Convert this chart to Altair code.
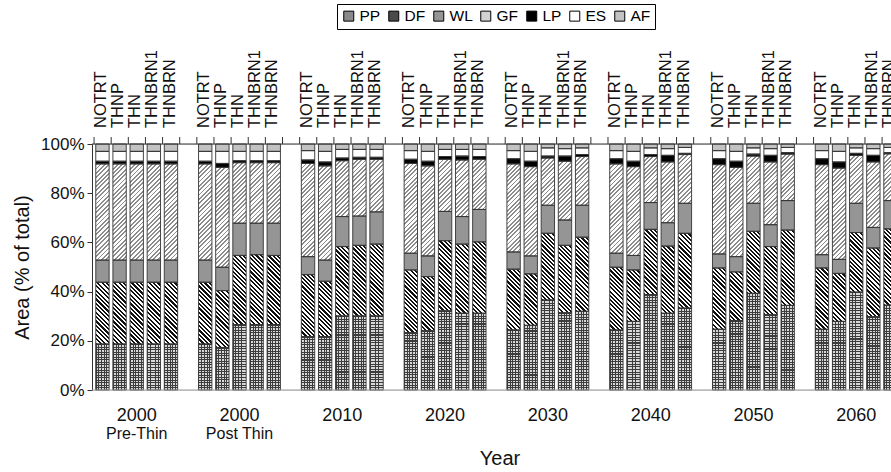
import altair as alt

# ---------------- data ----------------
groups = ["2000", "2000", "2010", "2020", "2030", "2040", "2050", "2060"]
group_sub = ["Pre-Thin", "Post Thin", "", "", "", "", "", ""]
treatments = ["NOTRT", "THNP", "THN", "THNBRN1", "THNBRN"]
classes = ["PP", "DF", "WL", "GF", "LP", "ES", "AF"]

# % of total area, 8 groups x 5 treatments (NOTRT, THNP, THN, THNBRN1, THNBRN)
PP = [18.7, 18.7, 18.7, 18.7, 18.7,
      18.7, 17.3, 26.6, 26.6, 26.6,
      21.7, 21.7, 30.1, 30.1, 30.1,
      23.3, 24.1, 32.2, 31.2, 31.2,
      24.4, 26.3, 36.6, 31.4, 32.0,
      24.4, 27.9, 38.8, 31.2, 33.3,
      24.7, 28.2, 39.3, 30.6, 34.4,
      24.7, 27.9, 39.8, 29.8, 34.5]
DF = [25.1, 25.1, 25.1, 25.1, 25.1,
      25.1, 23.1, 28.1, 28.4, 28.1,
      25.2, 22.5, 28.2, 28.7, 29.2,
      25.5, 22.0, 28.5, 28.1, 29.0,
      24.7, 20.9, 27.1, 27.4, 30.1,
      25.5, 20.9, 26.5, 27.3, 30.4,
      24.9, 19.8, 25.2, 27.7, 30.6,
      24.9, 19.5, 24.2, 27.9, 31.0]
WL = [9.0, 9.0, 9.0, 9.0, 9.0,
      9.0, 9.5, 13.1, 12.8, 13.1,
      7.3, 8.6, 12.2, 11.9, 13.1,
      6.8, 8.4, 11.9, 11.2, 13.2,
      7.0, 7.3, 11.4, 10.3, 13.0,
      5.7, 5.9, 10.9, 9.5, 12.2,
      5.7, 6.2, 11.4, 8.9, 12.0,
      5.4, 5.7, 11.9, 8.4, 11.5]
GF = [39.1, 39.1, 39.1, 39.1, 39.1,
      39.1, 40.6, 24.6, 24.6, 24.6,
      37.9, 38.3, 22.7, 23.1, 21.4,
      36.5, 36.6, 21.2, 23.0, 20.4,
      35.8, 36.3, 19.2, 23.9, 19.8,
      36.3, 36.1, 18.7, 24.7, 19.8,
      36.3, 36.3, 19.2, 25.5, 18.9,
      36.6, 37.1, 19.5, 26.6, 19.0]
LP = [1.1, 1.1, 1.1, 1.1, 1.1,
      1.1, 1.6, 0.8, 0.8, 0.8,
      1.4, 1.6, 1.1, 0.8, 0.8,
      1.7, 1.9, 1.1, 1.6, 1.1,
      2.1, 2.2, 0.8, 2.1, 0.8,
      2.1, 2.2, 0.8, 2.7, 0.5,
      2.4, 2.5, 0.8, 2.7, 0.6,
      2.4, 2.5, 0.8, 2.7, 0.5]
ES = [4.0, 4.0, 4.0, 4.0, 4.0,
      4.0, 4.9, 3.8, 3.8, 3.8,
      3.8, 4.3, 3.5, 3.2, 3.2,
      3.5, 4.0, 2.9, 2.7, 2.9,
      3.3, 4.0, 3.3, 3.0, 2.7,
      3.3, 4.0, 2.7, 2.7, 2.4,
      3.3, 4.0, 2.5, 2.7, 2.1,
      3.3, 4.3, 2.2, 2.7, 2.1]
AF = [3.0, 3.0, 3.0, 3.0, 3.0,
      3.0, 3.0, 3.0, 3.0, 3.0,
      2.7, 3.0, 2.2, 2.2, 2.2,
      2.7, 3.0, 2.2, 2.2, 2.2,
      2.7, 3.0, 1.6, 1.9, 1.6,
      2.7, 3.0, 1.6, 1.9, 1.4,
      2.7, 3.0, 1.6, 1.9, 1.4,
      2.7, 3.0, 1.6, 1.9, 1.4]

# ---------------- layout / style ----------------
FONT = "Liberation Sans"
W, H = 799, 246
X_MAX = 46.64                 # x domain in bar slots
SLOT_PX = W / X_MAX
PCT_PX = H / 100.0
BAR_OFF, BAR_W = 0.22, 0.78
BAR_W_PX = BAR_W * SLOT_PX

_gid = [0]


def _id():
    _gid[0] += 1
    return "hatch%d" % _gid[0]


def _stops(n, frac, line, bg):
    out = []
    for i in range(n):
        a, b, c = i / n, (i + frac) / n, (i + 1) / n
        out += [{"offset": round(a, 5), "color": line},
                {"offset": round(b, 5), "color": line},
                {"offset": round(b, 5), "color": bg},
                {"offset": round(c, 5), "color": bg}]
    return out


def diag(w, h, period, frac, line, bg, rising):
    k = (w + h) / (w * w + h * h)
    dx, dy = w * k, h * k
    n = max(1, int(round((w + h) / period)))
    if rising:   # "/"
        g = {"gradient": "linear", "id": _id(), "x1": 0, "y1": 0, "x2": dx, "y2": dy}
    else:        # "\"
        g = {"gradient": "linear", "id": _id(), "x1": 0, "y1": 1, "x2": dx, "y2": 1 - dy}
    g["stops"] = _stops(n, frac, line, bg)
    return g


def horiz_lines(h, period, frac, line, bg):
    n = max(1, int(round(h / period)))
    return {"gradient": "linear", "id": _id(), "x1": 0, "y1": 0, "x2": 0, "y2": 1,
            "stops": _stops(n, frac, line, bg)}


def vert_lines(w, period, frac, line, bg):
    n = max(1, int(round(w / period)))
    return {"gradient": "linear", "id": _id(), "x1": 0, "y1": 0, "x2": 1, "y2": 0,
            "stops": _stops(n, frac, line, bg)}


def fill_for(cls, h):
    h = max(h, 0.5)
    if cls == "PP":
        return horiz_lines(h, 2.6, 0.4, "#3c3c3c", "#d8d8d8")
    if cls == "DF":
        return diag(BAR_W_PX, h, 4.3, 0.5, "#111111", "#ffffff", False)
    if cls == "WL":
        return "#959595"
    if cls == "GF":
        return diag(BAR_W_PX, h, 4.3, 0.42, "#8c8c8c", "#ffffff", True)
    if cls == "LP":
        return "#000000"
    if cls == "ES":
        return "#ffffff"
    return "#c2c2c2"


values = {"PP": PP, "DF": DF, "WL": WL, "GF": GF, "LP": LP, "ES": ES, "AF": AF}

seg_rows, pp_rows, lab_rows, tick_rows, grp_rows = [], [], [], [], []
for g in range(len(groups)):
    for b, t in enumerate(treatments):
        i = g * len(treatments) + b
        slot = g * (len(treatments) + 1) + b
        x0, x1 = slot + BAR_OFF, slot + BAR_OFF + BAR_W
        cum = 0.0
        for c in classes:
            v = values[c][i]
            y0, y1 = cum, cum + v
            cum = y1
            seg_rows.append({"x0": x0, "x1": x1, "y0": y0, "y1": y1,
                             "fill": fill_for(c, v * PCT_PX)})
            if c == "PP":
                pp_rows.append({"x0": x0, "x1": x1, "y0": y0, "y1": y1,
                                "vfill": vert_lines(BAR_W_PX, 2.6, 0.35, "#3c3c3c",
                                                    "rgba(255,255,255,0)")})
        lab_rows.append({"xc": (x0 + x1) / 2 - 0.08, "label": t})
    for j in range(len(treatments) + 1):
        tick_rows.append({"tx": g * (len(treatments) + 1) + j + 0.12})
    grp_rows.append({"gx": g * (len(treatments) + 1) + BAR_OFF + (len(treatments) - BAR_OFF) / 2,
                     "year": groups[g], "sub": group_sub[g]})

xscale = alt.Scale(domain=[0, X_MAX], nice=False, zero=False)
yscale = alt.Scale(domain=[0, 100], nice=False, zero=True)
yaxis = alt.Axis(values=[0, 20, 40, 60, 80, 100], labelExpr="datum.value + '%'",
                 title="Area (% of total)", titleFontSize=20, titleFontWeight="normal",
                 titlePadding=8, titleFont=FONT, titleColor="#111",
                 labelFont=FONT, labelFontSize=17, labelColor="#111", labelPadding=3,
                 tickColor="#333", tickSize=5, domainColor="#333", grid=False)

segs = alt.Data(values=seg_rows)

base = alt.Chart(segs).mark_rect(strokeWidth=0).encode(
    x=alt.X("x0:Q", scale=xscale, axis=None),
    x2="x1:Q",
    y=alt.Y("y0:Q", scale=yscale, axis=yaxis),
    y2="y1:Q",
    fill=alt.Fill("fill:N", scale=None),
)

pp_over = alt.Chart(alt.Data(values=pp_rows)).mark_rect(strokeWidth=0).encode(
    x=alt.X("x0:Q", scale=xscale, axis=None),
    x2="x1:Q",
    y=alt.Y("y0:Q", scale=yscale, axis=yaxis),
    y2="y1:Q",
    fill=alt.Fill("vfill:N", scale=None),
)

outline = alt.Chart(segs).mark_rect(fill="white", fillOpacity=0, stroke="#333333",
                                    strokeWidth=0.9).encode(
    x=alt.X("x0:Q", scale=xscale, axis=None),
    x2="x1:Q",
    y=alt.Y("y0:Q", scale=yscale, axis=yaxis),
    y2="y1:Q",
)

frame = alt.Data(values=[{"k": "top"}])
top_line = alt.Chart(frame).mark_rule(color="#333", strokeWidth=1).encode(
    x=alt.value(0), x2=alt.value(W), y=alt.value(0))
bottom_line = alt.Chart(frame).mark_rule(color="#999", strokeWidth=1).encode(
    x=alt.value(0), x2=alt.value(W), y=alt.value(H))

top_ticks = alt.Chart(alt.Data(values=tick_rows)).mark_rule(color="#333", strokeWidth=1).encode(
    x=alt.X("tx:Q", scale=xscale, axis=None), y=alt.value(0), y2=alt.value(-7))

bar_labels = alt.Chart(alt.Data(values=lab_rows)).mark_text(
    angle=270, align="left", baseline="middle", font=FONT, fontSize=16.5, color="#111"
).encode(x=alt.X("xc:Q", scale=xscale, axis=None), y=alt.value(-16), text="label:N")

year_labels = alt.Chart(alt.Data(values=grp_rows)).mark_text(
    align="center", baseline="middle", font=FONT, fontSize=18, color="#111"
).encode(x=alt.X("gx:Q", scale=xscale, axis=None), y=alt.value(272), text="year:N")

sub_labels = alt.Chart(alt.Data(values=grp_rows)).mark_text(
    align="center", baseline="middle", font=FONT, fontSize=16, color="#111"
).encode(x=alt.X("gx:Q", scale=xscale, axis=None), y=alt.value(290), text="sub:N")

x_title = alt.Chart(alt.Data(values=[{"t": "Year"}])).mark_text(
    align="center", baseline="middle", font=FONT, fontSize=20, color="#111"
).encode(x=alt.value(408), y=alt.value(315), text="t:N")

legend_colors = ["#8a8a8a", "#4a4a4a", "#959595", "#d2d2d2", "#000000", "#ffffff", "#c2c2c2"]
legend_layer = alt.Chart(alt.Data(values=[{"cls": c} for c in classes])).mark_rect(
    strokeWidth=0).encode(
    x=alt.value(0), x2=alt.value(0), y=alt.value(0), y2=alt.value(0),
    color=alt.Color("cls:N", scale=alt.Scale(domain=classes, range=legend_colors),
                    legend=alt.Legend(title=None, orient="none", legendX=245, legendY=-140,
                                      direction="horizontal", columns=7,
                                      symbolType="square", symbolSize=100,
                                      symbolStrokeColor="#000", symbolStrokeWidth=1,
                                      labelFont=FONT, labelFontSize=15.5, labelColor="#000",
                                      labelOffset=3, columnPadding=5, padding=4,
                                      strokeColor="#000", cornerRadius=0)),
)

chart = alt.layer(
    base, pp_over, outline, bottom_line, top_line, top_ticks,
    bar_labels, year_labels, sub_labels, x_title, legend_layer
).properties(
    width=W, height=H,
    autosize=alt.AutoSizeParams(type="none"),
    padding={"left": 92, "top": 144, "right": 0, "bottom": 82},
).configure_view(stroke=None).configure(background="white")

chart.save("out.html", embed_options={"renderer": "svg", "actions": False})
